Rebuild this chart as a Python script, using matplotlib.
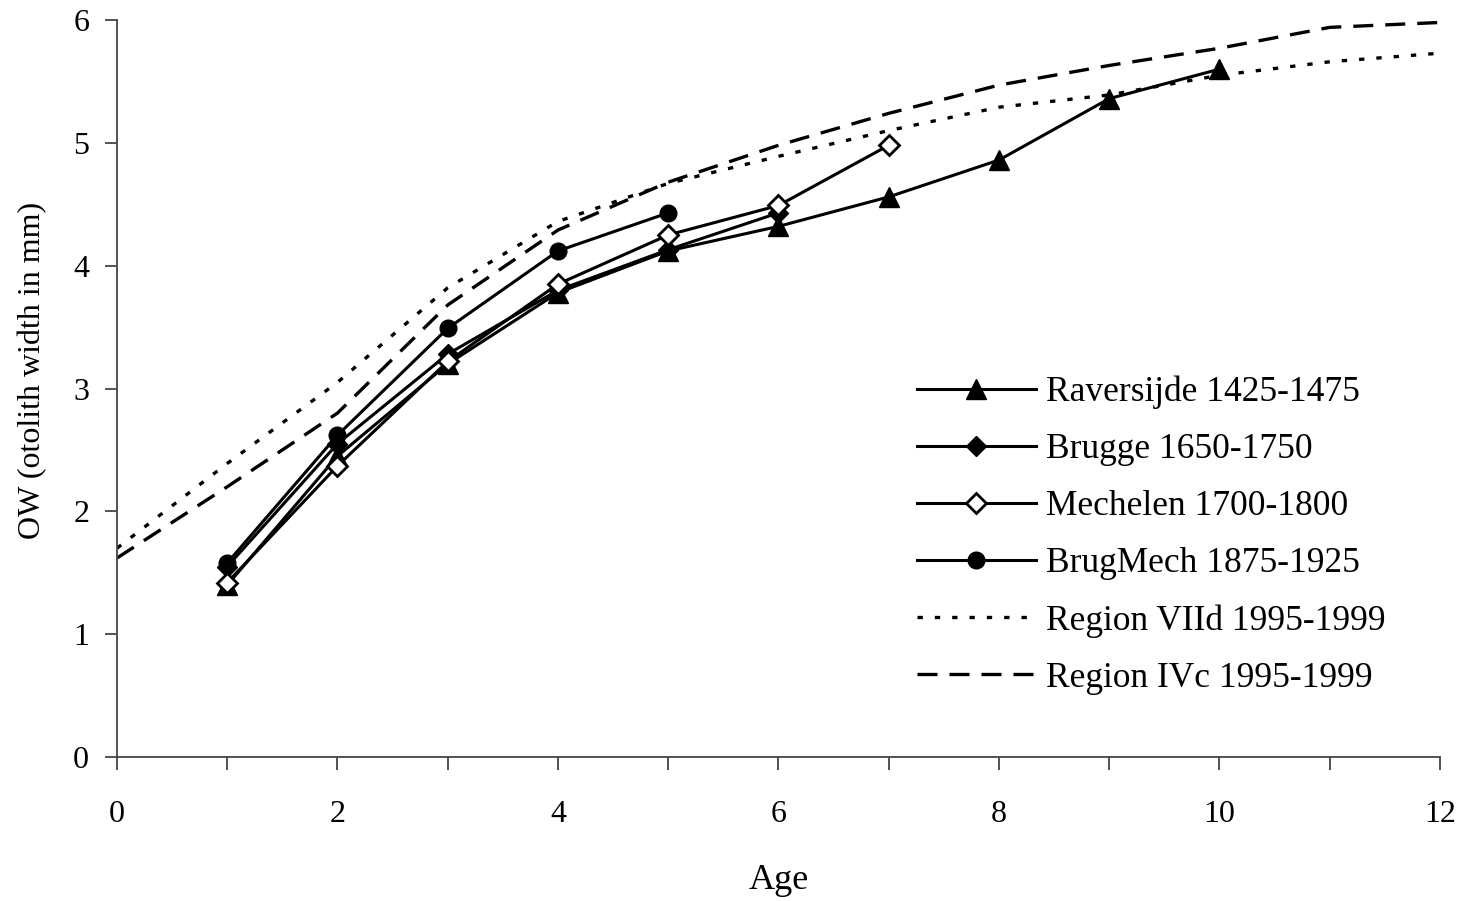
import matplotlib.pyplot as plt
from matplotlib.ticker import MultipleLocator

plt.rcParams["font.family"] = ["Liberation Serif", "DejaVu Serif"]

# ages and otolith widths
age_rav = [1, 2, 3, 4, 5, 6, 7, 8, 9, 10]
ow_rav = [1.40, 2.45, 3.20, 3.78, 4.12, 4.32, 4.56, 4.86, 5.36, 5.60]

age_bru = [1, 2, 3, 4, 5, 6]
ow_bru = [1.55, 2.55, 3.28, 3.80, 4.13, 4.43]

age_mec = [1, 2, 3, 4, 5, 6, 7]
ow_mec = [1.42, 2.37, 3.22, 3.85, 4.25, 4.49, 4.98]

age_bm = [1, 2, 3, 4, 5]
ow_bm = [1.58, 2.62, 3.49, 4.12, 4.43]

age_reg = [0, 1, 2, 3, 4, 5, 6, 7, 8, 9, 10, 11, 12]
ow_viid = [1.70, 2.39, 3.05, 3.82, 4.36, 4.67, 4.89, 5.10, 5.29, 5.39, 5.55, 5.66, 5.73]
ow_ivc = [1.62, 2.20, 2.80, 3.68, 4.29, 4.68, 4.98, 5.24, 5.47, 5.63, 5.77, 5.94, 5.98]

fig = plt.figure(figsize=(14.64, 9.01), dpi=100)
ax = fig.add_axes([0.0799, 0.1598, 0.9037, 0.818])

lw = 2.2
ax.plot(age_rav, ow_rav, color="black", lw=lw, marker="^", ms=15,
        label="Raversijde 1425-1475")
ax.plot(age_bru, ow_bru, color="black", lw=lw, marker="D", ms=10,
        label="Brugge 1650-1750")
ax.plot(age_mec, ow_mec, color="black", lw=lw, marker="D", ms=10,
        mfc="white", mew=2, label="Mechelen 1700-1800")
ax.plot(age_bm, ow_bm, color="black", lw=lw, marker="o", ms=12,
        label="BrugMech 1875-1925")
ax.plot(age_reg, ow_viid, color="black", lw=2.4, linestyle=(0, (1.6, 3.6)),
        label="Region VIId 1995-1999")
ax.plot(age_reg, ow_ivc, color="black", lw=2.4, linestyle=(0, (6, 3.6)),
        label="Region IVc 1995-1999")

ax.set_xlim(0, 12)
ax.set_ylim(0, 6)
ax.set_xticks(range(0, 13, 2))
ax.xaxis.set_minor_locator(MultipleLocator(1))
ax.set_yticks(range(0, 7))
ax.spines["top"].set_visible(False)
ax.spines["right"].set_visible(False)
for s in ("left", "bottom"):
    ax.spines[s].set_color("#444444")
    ax.spines[s].set_linewidth(1.3)
ax.tick_params(which="both", direction="out", length=9, width=1.3,
               color="#444444", labelsize=23)
ax.tick_params(axis="x", pad=22)
ax.tick_params(axis="y", pad=11)

ax.set_xlabel("Age", fontsize=26)
ax.xaxis.set_label_coords(0.5, -0.145)
ax.set_ylabel("OW (otolith width in mm)", fontsize=23)
ax.yaxis.set_label_coords(-0.053, 0.525)

leg = ax.legend(loc="upper left", bbox_to_anchor=(0.594, 0.537), frameon=False,
                fontsize=25.5, handlelength=3.35, handletextpad=0.3,
                labelspacing=0.68, borderaxespad=0)

fig.savefig("out.png", dpi=100)
